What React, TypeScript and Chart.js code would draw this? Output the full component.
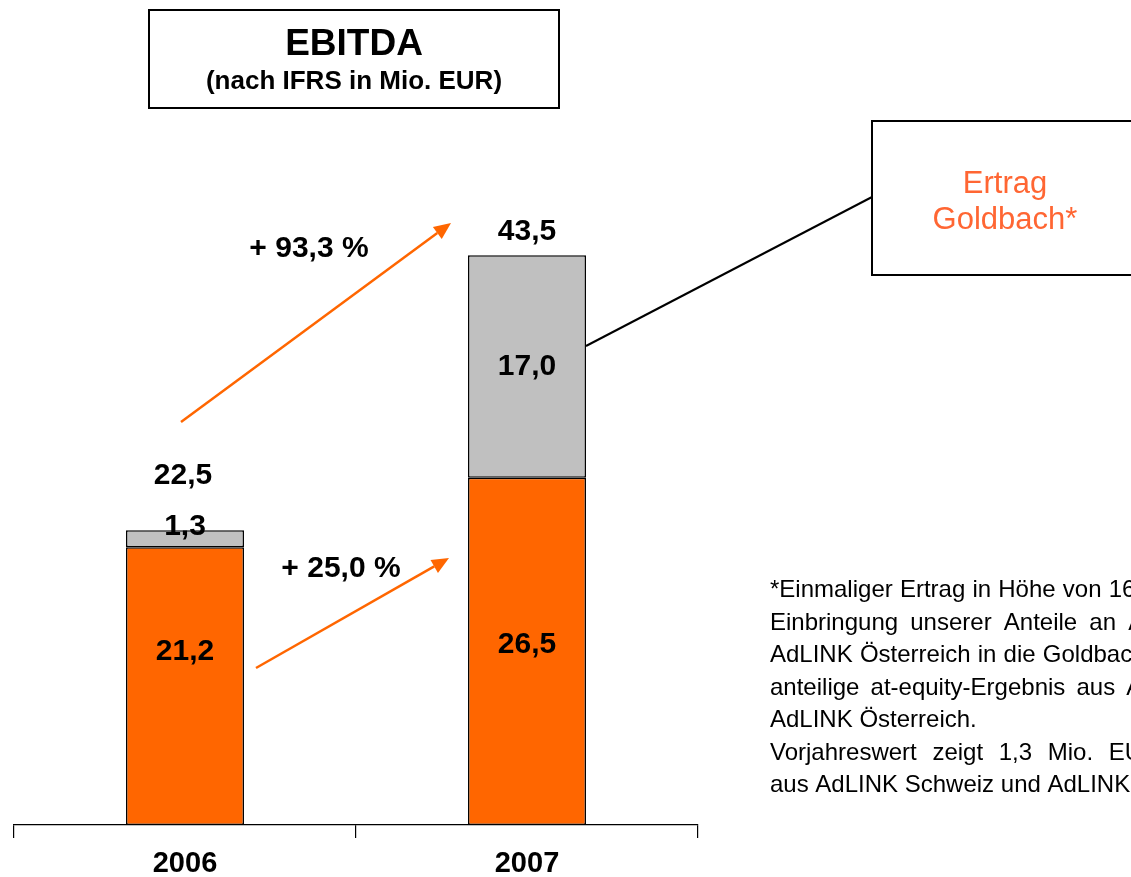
import React, { useEffect, useRef } from "react";
import { Chart, registerables } from "chart.js";

Chart.register(...registerables);

const categories = ["2006", "2007"];
const operatingValues = [21.2, 26.5];
const goldbachValues = [1.3, 17.0];
const growthLabels = ["+ 93,3 %", "+ 25,0 %"];
const titleLines = ["EBITDA", "(nach IFRS in Mio. EUR)"];
const calloutLines = ["Ertrag", "Goldbach*"];
const footnoteLines = [
  "*Einmaliger Ertrag in Höhe von 16,1 Mio. EUR aus der",
  "Einbringung unserer Anteile an AdLINK Schweiz und",
  "AdLINK Österreich in die Goldbach Media AG sowie das",
  "anteilige at-equity-Ergebnis aus AdLINK Schweiz und",
  "AdLINK Österreich.",
  "Vorjahreswert zeigt 1,3 Mio. EUR at-equity-Ergebnis",
  "aus AdLINK Schweiz und AdLINK Österreich.",
];
const footnoteExtraGap = [0.5, 5.5, 0.5, 4.5, 0, 9, 0];

const ORANGE = "#FF6600";
const GREY = "#C0C0C0";
const FONT = "'Liberation Sans', Arial, sans-serif";

const fmt = (v: number) => v.toFixed(1).replace(".", ",");

function arrow(ctx: CanvasRenderingContext2D, x0: number, y0: number, x1: number, y1: number) {
  const ang = Math.atan2(y1 - y0, x1 - x0);
  const hl = 17, hw = 7.5;
  const bx = x1 - hl * Math.cos(ang), by = y1 - hl * Math.sin(ang);
  ctx.save();
  ctx.strokeStyle = ORANGE;
  ctx.fillStyle = ORANGE;
  ctx.lineWidth = 2.5;
  ctx.beginPath();
  ctx.moveTo(x0, y0);
  ctx.lineTo(bx, by);
  ctx.stroke();
  ctx.beginPath();
  ctx.moveTo(x1, y1);
  ctx.lineTo(bx + hw * Math.sin(ang), by - hw * Math.cos(ang));
  ctx.lineTo(bx - hw * Math.sin(ang), by + hw * Math.cos(ang));
  ctx.closePath();
  ctx.fill();
  ctx.restore();
}

const overlayPlugin = {
  id: "overlay",
  afterDraw(chart: any) {
    const ctx: CanvasRenderingContext2D = chart.ctx;
    ctx.save();
    ctx.textAlign = "center";
    ctx.textBaseline = "middle";
    ctx.fillStyle = "#000";

    // Title box
    ctx.lineWidth = 2;
    ctx.strokeStyle = "#000";
    ctx.strokeRect(149, 10, 410, 98);
    ctx.font = `bold 37px ${FONT}`;
    ctx.fillText(titleLines[0], 354, 45);
    ctx.font = `bold 26px ${FONT}`;
    ctx.fillText(titleLines[1], 354, 82);

    // Value labels
    const m0 = chart.getDatasetMeta(0);
    const m1 = chart.getDatasetMeta(1);
    ctx.font = `bold 30px ${FONT}`;
    const orangeDy = [-34, -7];
    const greyDy = [-12, 0];
    const totalDy = [-55, -23];
    categories.forEach((_, i) => {
      const b0 = m0.data[i];
      const b1 = m1.data[i];
      ctx.fillText(fmt(operatingValues[i]), b0.x, (b0.y + b0.base) / 2 + orangeDy[i]);
      ctx.fillText(fmt(goldbachValues[i]), b1.x, (b1.y + b1.base) / 2 + greyDy[i]);
      ctx.fillText(fmt(operatingValues[i] + goldbachValues[i]), b1.x - (i === 0 ? 2 : 0), b1.y + totalDy[i]);
    });

    // Growth labels + arrows
    ctx.fillText(growthLabels[0], 309, 249);
    ctx.fillText(growthLabels[1], 341, 569);
    arrow(ctx, 181, 422, 451, 223);
    arrow(ctx, 256, 668, 449, 558);

    // Callout
    ctx.strokeStyle = "#000";
    ctx.lineWidth = 2;
    ctx.beginPath();
    ctx.moveTo(m1.data[1].x + m1.data[1].width / 2, 346);
    ctx.lineTo(872, 197);
    ctx.stroke();
    ctx.strokeRect(872, 121, 300, 154);
    ctx.fillStyle = "#FF6633";
    ctx.font = `31px ${FONT}`;
    ctx.fillText(calloutLines[0], 1005, 184);
    ctx.fillText(calloutLines[1], 1005, 220);

    // Footnote
    ctx.fillStyle = "#000";
    ctx.font = `24px ${FONT}`;
    ctx.textAlign = "left";
    ctx.textBaseline = "alphabetic";
    const sp = ctx.measureText(" ").width;
    footnoteLines.forEach((line, li) => {
      let x = 770;
      const y = 597 + li * 32.5;
      line.split(" ").forEach((w) => {
        ctx.fillText(w, x, y);
        x += ctx.measureText(w).width + sp + footnoteExtraGap[li];
      });
    });
    ctx.restore();
  },
};

export default function App() {
  const ref = useRef<HTMLCanvasElement>(null);
  useEffect(() => {
    if (!ref.current) return;
    const chart = new Chart(ref.current, {
      type: "bar",
      data: {
        labels: categories,
        datasets: [
          {
            label: "EBITDA operativ",
            data: operatingValues,
            backgroundColor: ORANGE,
            borderColor: "#000",
            borderWidth: 1.5,
            borderSkipped: false,
          },
          {
            label: "Ertrag Goldbach",
            data: goldbachValues,
            backgroundColor: GREY,
            borderColor: "#000",
            borderWidth: 1.5,
            borderSkipped: false,
          },
        ],
      },
      options: {
        animation: false,
        responsive: true,
        maintainAspectRatio: false,
        layout: { padding: { left: 14, right: 433, top: 39, bottom: 0 } },
        datasets: { bar: { barPercentage: 0.345, categoryPercentage: 1 } },
        plugins: { legend: { display: false }, tooltip: { enabled: false }, title: { display: false } },
        scales: {
          x: {
            stacked: true,
            offset: true,
            grid: {
              display: true,
              offset: true,
              drawOnChartArea: false,
              drawTicks: true,
              tickLength: 13,
              color: "#000",
              lineWidth: 1.2,
            },
            border: { display: true, color: "#000", width: 1.2 },
            ticks: {
              color: "#000",
              padding: 9,
              font: { family: FONT, size: 29, weight: "bold" },
            },
            afterFit: (scale: any) => {
              scale.height = 52;
            },
          },
          y: {
            stacked: true,
            display: false,
            min: 0,
            max: 60,
          },
        },
      },
      plugins: [overlayPlugin],
    } as any);
    return () => chart.destroy();
  }, []);
  return (
    <div style={{ position: "absolute", left: 0, top: 0, width: 1131, height: 877, overflow: "hidden" }}>
      <canvas ref={ref} />
    </div>
  );
}
